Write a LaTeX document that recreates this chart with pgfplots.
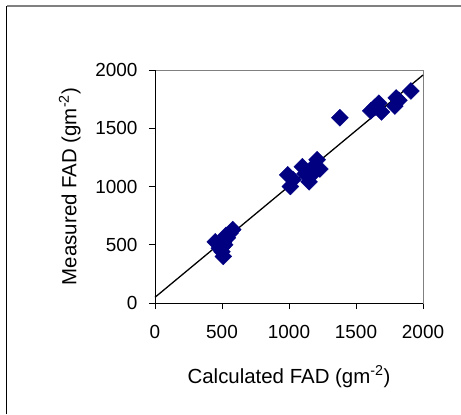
\documentclass[border=0pt]{standalone}
\usepackage{fontspec}
\setmainfont{Liberation Sans}
\usepackage{pgfplots}
\pgfplotsset{compat=1.18}
\definecolor{navyx}{HTML}{000080}
\begin{document}
\begin{tikzpicture}[x=1bp,y=1bp]
% page frame (left and top edges of the chart area)
\path[use as bounding box] (-155,-111) rectangle (306,303);
\draw[black,line width=1bp] (-148,-111) -- (-148,297);
\draw[gray,line width=1.5bp] (-148,297) -- (306,297);
\begin{axis}[
  at={(0,0)}, anchor=south west,
  scale only axis, width=268bp, height=233bp,
  xmin=0, xmax=2000, ymin=0, ymax=2000,
  xtick={0,500,...,2000}, ytick={0,500,...,2000},
  xtick pos=bottom, ytick pos=left,
  tick align=outside, major tick length=6bp,
  tick style={black, line width=0.8pt},
  axis line style={gray, line width=0.9pt},
  /pgf/number format/assume math mode=true,
  /pgf/number format/1000 sep={},
  ticklabel style={font=\fontsize{19}{22}\selectfont},
  xticklabel style={yshift=-13bp},
  yticklabel style={xshift=-8bp},
  label style={font=\fontsize{20.5}{24}\selectfont},
  xlabel={Calculated FAD (gm\textsuperscript{-2})},
  ylabel={Measured FAD (gm\textsuperscript{-2})},
  xlabel style={yshift=-20bp},
  ylabel style={yshift=8bp},
  clip=false,
]
\addplot[black, line width=1.3pt] coordinates {(0,49) (2000,1957)};
\addplot[only marks, mark=square*, mark size=6pt,
  mark options={rotate=45, fill=navyx, draw=navyx}] coordinates {
  (450,525) (480,470) (500,440) (510,400) (500,480) (520,500)
  (540,560) (560,600) (580,630) (510,520) (530,580)
  (990,1100) (1010,1000) (1030,1060) (1100,1170) (1120,1110)
  (1150,1040) (1170,1100) (1210,1230) (1230,1150) (1190,1180)
  (1380,1590)
  (1610,1650) (1640,1680) (1670,1715) (1690,1640)
  (1790,1690) (1800,1760) (1820,1740) (1910,1820)
};
\draw[black, line width=0.9pt] (rel axis cs:0,0) -- (rel axis cs:1,0);
\draw[black, line width=0.9pt] (rel axis cs:0,0) -- (rel axis cs:0,1);
\end{axis}
\end{tikzpicture}
\end{document}
